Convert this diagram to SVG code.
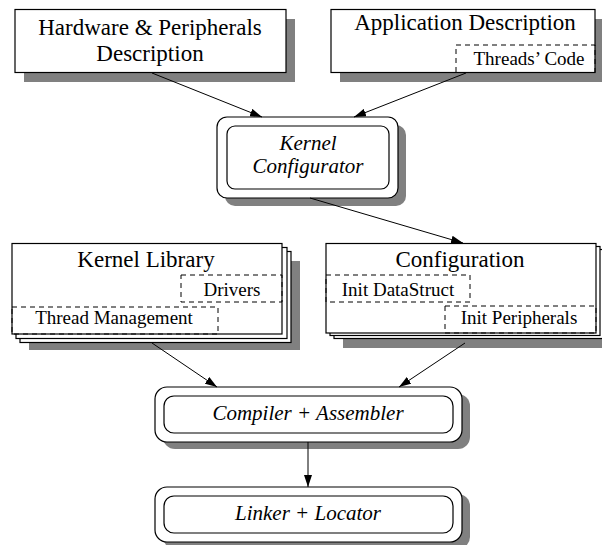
<svg xmlns="http://www.w3.org/2000/svg" width="602" height="545" viewBox="0 0 602 545">
  <defs>
    <marker id="arrow" viewBox="0 0 12 8" refX="12" refY="4" markerWidth="12" markerHeight="8" markerUnits="userSpaceOnUse" orient="auto">
      <path d="M0,0 L12,4 L0,8 z" fill="#000"/>
    </marker>
  </defs>
  <style>
    .box { fill: #fff; stroke: #000; stroke-width: 1.2; }
    .shadow { fill: #808080; stroke: none; }
    .dash { fill: none; stroke: #000; stroke-width: 1; stroke-dasharray: 5 4; }
    .edge { fill: none; stroke: #000; stroke-width: 1; marker-end: url(#arrow); }
    .title { font-family: "Liberation Serif", "Times New Roman", serif; font-size: 23px; fill: #000; text-anchor: middle; }
    .sub { font-family: "Liberation Serif", "Times New Roman", serif; font-size: 19px; fill: #000; text-anchor: middle; }
    .proc { font-family: "Liberation Serif", "Times New Roman", serif; font-size: 21px; font-style: italic; fill: #000; text-anchor: middle; }
  </style>

  <!-- input descriptions -->
  <g id="hw-desc">
    <rect class="shadow" x="24" y="19" width="271" height="63"/>
    <rect class="box" x="15" y="9.5" width="271" height="63"/>
    <text class="title" x="150" y="35">Hardware &amp; Peripherals</text>
    <text class="title" x="150" y="61">Description</text>
  </g>

  <g id="app-desc">
    <rect class="shadow" x="340" y="19" width="264" height="63"/>
    <rect class="box" x="331" y="9.5" width="264" height="63"/>
    <text class="title" x="465" y="30">Application Description</text>
    <rect class="dash" x="456" y="45" width="139" height="27.5"/>
    <text class="sub" x="529" y="65">Threads’ Code</text>
  </g>

  <!-- configurator tool -->
  <g id="kernel-configurator">
    <rect class="shadow" x="225" y="125" width="181" height="81" rx="10"/>
    <rect class="box" x="217" y="117" width="181" height="81" rx="10"/>
    <rect class="box" x="227" y="126" width="162" height="63" rx="8"/>
    <text class="proc" x="308" y="150">Kernel</text>
    <text class="proc" x="308" y="173">Configurator</text>
  </g>

  <!-- source sets, drawn as stacks of pages -->
  <g id="kernel-library">
    <rect class="shadow" x="29" y="261" width="271" height="89"/>
    <rect class="box" x="20" y="251.5" width="271" height="91"/>
    <rect class="box" x="16" y="247.5" width="271" height="91"/>
    <rect class="box" x="12" y="243.5" width="270" height="90.5"/>
    <text class="title" x="146" y="267">Kernel Library</text>
    <rect class="dash" x="181" y="275" width="101" height="27"/>
    <text class="sub" x="232" y="296">Drivers</text>
    <rect class="dash" x="12" y="307" width="206" height="27"/>
    <text class="sub" x="114" y="324">Thread Management</text>
  </g>

  <g id="configuration">
    <rect class="shadow" x="343" y="259" width="270" height="89"/>
    <rect class="box" x="334" y="249.5" width="270" height="89"/>
    <rect class="box" x="330" y="246.5" width="270" height="89"/>
    <rect class="box" x="326" y="243.5" width="270" height="89.5"/>
    <text class="title" x="460" y="267">Configuration</text>
    <rect class="dash" x="326" y="275" width="144" height="27"/>
    <text class="sub" x="398" y="296">Init DataStruct</text>
    <rect class="dash" x="445" y="306" width="151" height="27"/>
    <text class="sub" x="519" y="324">Init Peripherals</text>
  </g>

  <!-- build tools -->
  <g id="compiler-assembler">
    <rect class="shadow" x="163" y="394" width="307" height="55" rx="12"/>
    <rect class="box" x="155" y="387" width="307" height="55" rx="12"/>
    <rect class="box" x="164" y="396" width="289" height="37" rx="10"/>
    <text class="proc" x="308" y="420">Compiler + Assembler</text>
  </g>

  <g id="linker-locator">
    <rect class="shadow" x="163" y="494" width="307" height="55" rx="12"/>
    <rect class="box" x="155" y="487" width="307" height="55" rx="12"/>
    <rect class="box" x="164" y="496" width="289" height="37" rx="10"/>
    <text class="proc" x="308" y="520">Linker + Locator</text>
  </g>

  <!-- data flow -->
  <g id="connectors">
    <line class="edge" x1="152" y1="73" x2="262" y2="117"/>
    <line class="edge" x1="466" y1="73" x2="354" y2="117"/>
    <line class="edge" x1="310" y1="198" x2="463" y2="243"/>
    <line class="edge" x1="152" y1="343" x2="217" y2="387"/>
    <line class="edge" x1="465" y1="343" x2="399" y2="387"/>
    <line class="edge" x1="308" y1="442" x2="308" y2="487"/>
  </g>
</svg>
